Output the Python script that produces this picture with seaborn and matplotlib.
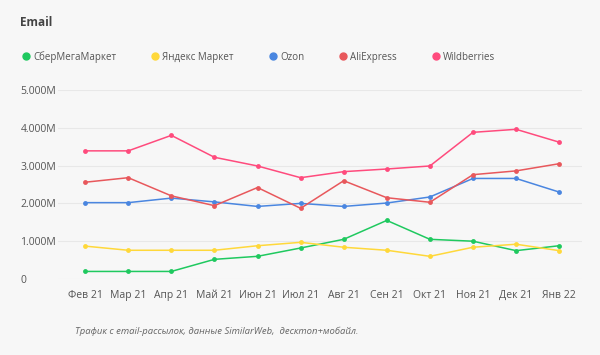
import seaborn as sns
import pandas as pd
import matplotlib.pyplot as plt

months = ["Фев 21", "Мар 21", "Апр 21", "Май 21", "Июн 21", "Июл 21",
          "Авг 21", "Сен 21", "Окт 21", "Ноя 21", "Дек 21", "Янв 22"]
shops = ["СберМегаМаркет", "Яндекс Маркет", "Ozon", "AliExpress", "Wildberries"]

# млн визитов
sber = [0.20, 0.20, 0.20, 0.52, 0.60, 0.82, 1.05, 1.55, 1.05, 1.00, 0.75, 0.88]
yandex = [0.87, 0.76, 0.76, 0.76, 0.88, 0.97, 0.84, 0.76, 0.60, 0.84, 0.92, 0.75]
ozon = [2.02, 2.02, 2.14, 2.04, 1.92, 2.00, 1.92, 2.01, 2.17, 2.66, 2.66, 2.30]
ali = [2.56, 2.68, 2.20, 1.94, 2.42, 1.87, 2.60, 2.15, 2.03, 2.76, 2.86, 3.05]
wb = [3.39, 3.39, 3.80, 3.22, 2.99, 2.68, 2.84, 2.91, 2.99, 3.88, 3.96, 3.62]

yticks = [0, 1, 2, 3, 4, 5]
ylabels = ["0", "1.000M", "2.000M", "3.000M", "4.000M", "5.000M"]

colors = ["#1fc95f", "#ffd83a", "#4a86e0", "#e8585c", "#ff4b7d"]

rows = []
for name, vals in zip(shops, [sber, yandex, ozon, ali, wb]):
    for i, v in enumerate(vals):
        rows.append({"shop": name, "idx": i, "value": v})
df = pd.DataFrame(rows)

sns.set_style("white")
plt.rcParams["font.family"] = ["Open Sans", "DejaVu Sans"]

bg = "#f7f7f7"
fig = plt.figure(figsize=(6, 3.55), dpi=100, facecolor=bg)
ax = fig.add_axes([58 / 600, 1 - 279 / 355, 524 / 600, 189 / 355], facecolor=bg)

sns.lineplot(data=df, x="idx", y="value", hue="shop", hue_order=shops,
             palette=colors, marker="o", markersize=3.5, markeredgewidth=0,
             linewidth=1.1, ax=ax, legend=False)

ax.set_xlim(-0.63, 11.53)
ax.set_ylim(0, 5)
ax.set_xticks(range(len(months)))
ax.set_xticklabels(months)
ax.set_yticks(yticks)
ax.set_yticklabels(ylabels)
for lbl in ax.get_yticklabels():
    lbl.set_ha("left")
ax.tick_params(axis="y", length=0, pad=27, labelsize=7.5, labelcolor="#555555")
ax.tick_params(axis="x", length=0, pad=8, labelsize=7.5, labelcolor="#555555")
ax.set_xlabel("")
ax.set_ylabel("")
ax.grid(axis="y", color="#e8e8e8", linewidth=0.8)
sns.despine(ax=ax, left=True, bottom=True)

handles = [plt.Line2D([], [], marker="o", linestyle="", color=c, markersize=5)
           for c in colors]
fig.legend(handles, shops, loc="center left", bbox_to_anchor=(17 / 600, 1 - 57 / 355),
           ncol=5, frameon=False, fontsize=7.0, handletextpad=0.35, borderpad=0,
           columnspacing=3.6, handlelength=0.8, labelcolor="#555555")

fig.text(20 / 600, 1 - 22 / 355, "Email", fontsize=8.5, fontweight="bold",
         color="#444444", va="center")
fig.text(75 / 600, 1 - 331 / 355,
         "Трафик с email-рассылок, данные SimilarWeb,  десктоп+мобайл.",
         fontsize=6.8, style="italic", color="#666666", va="center")

fig.savefig("out.png", dpi=100, facecolor=bg)
